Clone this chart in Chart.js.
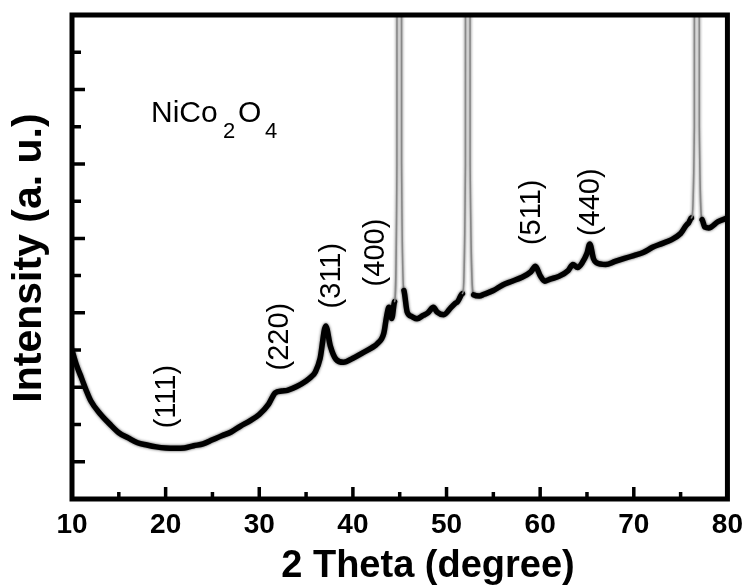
<!DOCTYPE html>
<html>
<head>
<meta charset="utf-8">
<script src="https://cdn.jsdelivr.net/npm/chart.js@4.4.1/dist/chart.umd.min.js"></script>
<style>
  html, body { margin: 0; padding: 0; background: #fff; }
  #wrap { width: 752px; height: 588px; }
</style>
</head>
<body>
<div id="wrap"><canvas id="xrd" width="752" height="588"></canvas></div>
<script>
// 2 theta positions (degree)
const twoTheta = [
  10, 10.5, 11, 11.5, 12, 13, 14, 15, 16, 17, 18, 19, 20, 21, 22, 23, 24, 25, 26, 27,
  28, 29, 30, 31, 31.7, 32.4, 33, 34, 35, 35.5, 36, 36.5, 37.1, 37.6, 38.2, 39, 40, 41,
  42, 42.6, 43.3, 43.6, 43.85, 44.15, 44.45, 44.7, 44.95, 45.2, 45.45, 45.8, 46.3, 46.85,
  47.5, 48, 48.6, 49, 49.7, 50.5, 51.1, 51.7, 52.02, 52.27, 52.52, 52.9, 53.5, 54, 55,
  56, 57, 58, 59, 59.5, 60, 60.5, 61, 62, 63, 63.5, 64, 64.5, 65, 65.3, 65.7, 66, 67,
  68, 69, 70, 71, 72, 73, 74, 75, 75.8, 76.15, 76.47, 76.73, 77.0, 77.3, 77.6, 78, 79, 80
];
// intensity (a. u.), one value per 2 theta position
const intensity = [
  4.0, 3.58, 3.26, 2.93, 2.64, 2.29, 2.02, 1.78, 1.64, 1.51, 1.45, 1.40, 1.37, 1.36, 1.37, 1.43, 1.48, 1.59, 1.70, 1.80,
  1.96, 2.10, 2.27, 2.55, 2.85, 2.90, 2.92, 3.02, 3.17, 3.27, 3.42, 3.78, 4.65, 4.10, 3.75, 3.67, 3.78, 3.92,
  4.06, 4.17, 4.45, 4.90, 5.15, 4.85, 5.30, 9.0, 200, 9.0, 5.6, 5.02, 4.90, 4.84,
  4.93, 5.00, 5.15, 5.02, 4.95, 5.15, 5.28, 5.52, 9.0, 200, 9.0, 5.48, 5.45, 5.50, 5.60,
  5.75, 5.85, 5.95, 6.10, 6.25, 6.00, 5.85, 5.90, 5.98, 6.14, 6.30, 6.22, 6.35, 6.60, 6.85, 6.45, 6.35, 6.30,
  6.38, 6.46, 6.54, 6.62, 6.76, 6.86, 6.96, 7.13, 7.40, 7.55, 10, 200, 10, 7.50, 7.30, 7.28, 7.45, 7.55
];
const xTicks = [10, 20, 30, 40, 50, 60, 70, 80];
const xMinorTicks = [15, 25, 35, 45, 55, 65, 75];
const yTicks = [1, 3, 5, 7, 9, 11];
const yMinorTicks = [2, 4, 6, 8, 10, 12];

// hkl labels and where they sit (degree, intensity)
const peakNames = ["(111)", "(220)", "(311)", "(400)", "(511)", "(440)"];
const peakAtX = [20.17, 32.24, 37.75, 42.5, 59.14, 65.39];
const peakAtY = [2.75, 4.36, 6.0, 6.62, 7.70, 7.97];

const FONT = 'Arial, "Liberation Sans", sans-serif';

const points = twoTheta.map((t, i) => ({ x: t, y: intensity[i] }));

// soft edge on the trace so it reads like the noisy band of the scan
const fuzz = {
  id: 'fuzz',
  beforeDatasetDraw(chart) {
    const ctx = chart.ctx;
    ctx.save();
    ctx.shadowColor = 'rgba(0,0,0,0.7)';
    ctx.shadowBlur = 3;
  },
  afterDatasetDraw(chart) {
    chart.ctx.restore();
  }
};

// frame, inward ticks and the texts
const decor = {
  id: 'decor',
  afterDraw(chart) {
    const { ctx, chartArea: a, scales: { x, y } } = chart;
    ctx.save();
    ctx.strokeStyle = '#000';
    ctx.lineWidth = 5;
    ctx.strokeRect(a.left, a.top, a.right - a.left, a.bottom - a.top);

    ctx.lineWidth = 3.5;
    ctx.beginPath();
    xTicks.forEach(v => { const px = x.getPixelForValue(v); ctx.moveTo(px, a.bottom); ctx.lineTo(px, a.bottom - 12); });
    xMinorTicks.forEach(v => { const px = x.getPixelForValue(v); ctx.moveTo(px, a.bottom); ctx.lineTo(px, a.bottom - 7); });
    yTicks.forEach(v => { const py = y.getPixelForValue(v); ctx.moveTo(a.left, py); ctx.lineTo(a.left + 13, py); });
    yMinorTicks.forEach(v => { const py = y.getPixelForValue(v); ctx.moveTo(a.left, py); ctx.lineTo(a.left + 9, py); });
    ctx.stroke();

    ctx.fillStyle = '#000';
    // hkl labels, rotated
    ctx.font = '29px ' + FONT;
    ctx.textAlign = 'center';
    ctx.textBaseline = 'middle';
    peakNames.forEach((name, i) => {
      ctx.save();
      ctx.translate(x.getPixelForValue(peakAtX[i]), y.getPixelForValue(peakAtY[i]));
      ctx.rotate(-Math.PI / 2);
      ctx.fillText(name, 0, 0);
      ctx.restore();
    });

    // NiCo2O4 with subscripts
    ctx.textAlign = 'left';
    ctx.textBaseline = 'alphabetic';
    ctx.font = '30px ' + FONT;
    ctx.fillText('NiCo', 151, 122);
    ctx.fillText('O', 238, 122);
    ctx.font = '22px ' + FONT;
    ctx.fillText('2', 223, 138);
    ctx.fillText('4', 265, 138);

    // axis titles
    ctx.font = 'bold 38px ' + FONT;
    ctx.textAlign = 'center';
    ctx.fillText('2 Theta (degree)', 428, 577);
    ctx.save();
    ctx.translate(30, (a.top + a.bottom) / 2 + 1);
    ctx.rotate(-Math.PI / 2);
    ctx.font = 'bold 41px ' + FONT;
    ctx.textBaseline = 'middle';
    ctx.fillText('Intensity (a. u.)', 0, 0);
    ctx.restore();
    ctx.restore();
  }
};

const steep = c => Math.abs(c.p1.parsed.y - c.p0.parsed.y) > 1.5;

new Chart(document.getElementById('xrd'), {
  type: 'line',
  data: {
    datasets: [{
      data: points,
      borderColor: '#000',
      borderWidth: 5.5,
      borderJoinStyle: 'round',
      borderCapStyle: 'round',
      pointRadius: 0,
      cubicInterpolationMode: 'monotone',
      segment: {
        borderColor: c => steep(c) ? '#888' : undefined,
        borderWidth: c => steep(c) ? 1.5 : undefined
      }
    }]
  },
  options: {
    responsive: false,
    animation: false,
    layout: { padding: { top: 15, right: 20, left: 0, bottom: 0 } },
    plugins: { legend: { display: false }, tooltip: { enabled: false } },
    scales: {
      x: {
        type: 'linear', min: 10, max: 80,
        afterFit: s => { s.height = 89; },
        afterBuildTicks: s => { s.ticks = xTicks.map(v => ({ value: v })); },
        grid: { display: false, drawTicks: false },
        border: { display: false },
        ticks: {
          color: '#000', padding: 9, maxRotation: 0, autoSkip: false,
          font: { family: FONT, size: 28, weight: 'bold' }
        }
      },
      y: {
        min: 0, max: 13,
        afterFit: s => { s.width = 72; },
        grid: { display: false, drawTicks: false },
        border: { display: false },
        ticks: { display: false }
      }
    }
  },
  plugins: [fuzz, decor]
});
</script>
</body>
</html>
